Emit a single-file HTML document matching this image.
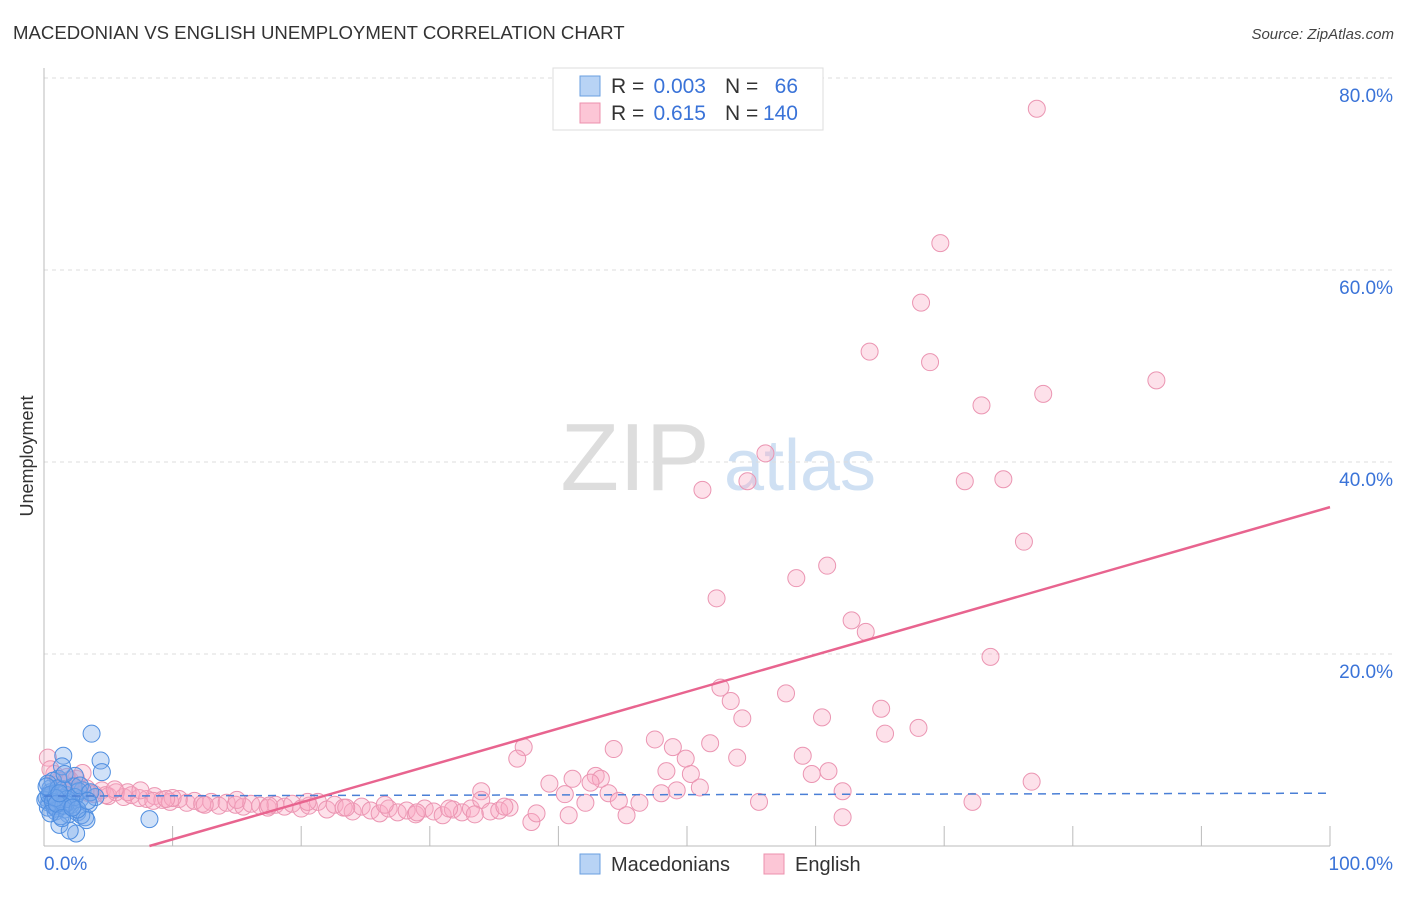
<!DOCTYPE html>
<html><head><meta charset="utf-8"><style>
body{margin:0;background:#fff;font-family:"Liberation Sans",sans-serif}
svg text{font-family:"Liberation Sans",sans-serif}
</style></head><body>
<svg id="chart" width="1406" height="892" viewBox="0 0 1406 892">
<text x="13" y="39" font-size="18.6" fill="#333">MACEDONIAN VS ENGLISH UNEMPLOYMENT CORRELATION CHART</text>
<text x="1394" y="39" font-size="15" fill="#444" text-anchor="end" font-style="italic">Source: ZipAtlas.com</text>
<text transform="translate(33,456) rotate(-90)" font-size="18" fill="#333" text-anchor="middle">Unemployment</text>
<g><text x="635" y="490" font-size="96" fill="#ddd" font-family="Liberation Serif" text-anchor="middle">ZIP</text><text x="800" y="490" font-size="72" fill="#cfe0f3" text-anchor="middle">atlas</text></g>
<g id="grid"></g><g id="axes"></g><g id="pts"></g><g id="trend"></g>
<g>
<rect x="553" y="68" width="270" height="62" fill="#fff" stroke="#ddd"/>
<rect x="580" y="76" width="20" height="20" fill="#b8d3f5" stroke="#6a9fe0"/>
<rect x="580" y="103" width="20" height="20" fill="#fcc6d6" stroke="#ec90ad"/>
<text x="611" y="93" font-size="21" fill="#333">R =</text>
<text x="706" y="93" font-size="21" fill="#3a73d8" text-anchor="end">0.003</text>
<text x="725" y="93" font-size="21" fill="#333">N =</text>
<text x="798" y="93" font-size="21" fill="#3a73d8" text-anchor="end">66</text>
<text x="611" y="120" font-size="21" fill="#333">R =</text>
<text x="706" y="120" font-size="21" fill="#3a73d8" text-anchor="end">0.615</text>
<text x="725" y="120" font-size="21" fill="#333">N =</text>
<text x="798" y="120" font-size="21" fill="#3a73d8" text-anchor="end">140</text>
</g>
<g>
<rect x="580" y="854" width="20" height="20" fill="#b8d3f5" stroke="#6a9fe0"/><text x="611" y="871" font-size="20" fill="#333">Macedonians</text>
<rect x="764" y="854" width="20" height="20" fill="#fcc6d6" stroke="#ec90ad"/><text x="795" y="871" font-size="20" fill="#333">English</text>
</g>
</svg>
<script>
const yTicks=[20,40,60,80];
const xTickLabels=["0.0%","100.0%"];
const blueX=[0.2,0.4,0.5,0.6,0.8,1.0,1.1,1.3,1.5,1.6,1.8,2.0,2.2,2.4,2.6,2.8,3.0,3.2,3.5,3.7,4.0,4.4,4.5,8.2,0.3,0.5,0.7,0.9,1.2,1.4,1.6,1.9,2.1,2.3,2.5,2.7,0.1,0.3,0.6,0.8,1.0,1.2,1.5,1.7,2.0,2.9,3.3,0.4,0.7,1.1,1.3,1.8,2.4,2.8,1.6,3.6,1.5,0.9,0.2,0.5,1.0,1.4,2.6,3.4,1.2,2.2];
const blueY=[5.0,4.5,6.0,5.2,4.2,5.5,7.0,4.8,9.4,3.8,5.3,4.6,4.0,7.3,3.5,4.9,5.8,3.0,4.4,11.7,5.1,8.9,7.7,2.8,4.0,5.6,6.8,3.6,4.7,8.3,5.0,3.3,4.3,6.2,1.3,5.7,4.8,6.5,5.4,4.1,3.9,2.2,5.9,4.4,1.6,3.2,2.7,5.3,4.6,6.0,3.1,4.9,5.1,6.3,7.5,5.6,4.2,5.0,6.2,3.4,4.4,2.9,3.8,4.7,5.5,4.0];
const pinkX=[77.2,69.7,68.2,64.2,68.9,86.5,77.7,72.9,56.1,54.7,51.2,71.6,74.6,76.2,58.5,60.9,52.3,62.8,63.9,73.6,52.6,53.4,57.7,54.3,65.1,60.5,68.0,65.4,47.5,51.8,48.9,44.3,37.3,36.8,49.9,53.9,59.0,48.4,50.3,59.7,61.0,76.8,42.9,41.1,43.3,39.3,42.5,51.0,49.2,34.0,62.1,48.0,40.5,43.9,55.6,72.2,44.7,46.3,42.1,62.1,45.3,40.8,37.9,38.3,
0.3,0.8,1.2,1.8,2.3,2.8,3.3,3.9,4.5,5.0,5.6,6.2,6.8,7.4,8.0,8.6,9.2,9.8,10.5,11.1,11.7,12.3,13.0,13.6,14.2,14.9,15.5,16.1,16.8,17.4,18.0,18.7,19.3,20.0,20.6,21.3,22.0,22.6,23.3,24.0,24.7,25.4,26.1,26.8,27.5,28.2,28.9,29.6,30.3,31.0,31.8,32.5,33.2,34.0,34.7,35.4,36.2,0.5,1.5,2.5,3.5,4.8,6.5,8.5,10.0,12.5,15.0,17.5,20.5,23.5,26.5,29.0,31.5,33.5,35.8,2.0,3.0,5.5,7.5,9.5];
const pinkY=[76.8,62.8,56.6,51.5,50.4,48.5,47.1,45.9,40.9,38.0,37.1,38.0,38.2,31.7,27.9,29.2,25.8,23.5,22.3,19.7,16.5,15.1,15.9,13.3,14.3,13.4,12.3,11.7,11.1,10.7,10.3,10.1,10.3,9.1,9.1,9.2,9.4,7.8,7.5,7.5,7.8,6.7,7.3,7.0,7.0,6.5,6.6,6.1,5.8,5.7,5.7,5.5,5.4,5.5,4.6,4.6,4.7,4.5,4.5,3.0,3.2,3.2,2.5,3.4,
9.2,7.5,6.8,7.2,6.3,5.9,6.0,5.4,5.8,5.2,5.6,5.1,5.3,5.0,4.9,5.2,4.8,4.6,4.9,4.5,4.7,4.4,4.6,4.2,4.5,4.3,4.1,4.4,4.2,4.0,4.3,4.1,4.4,3.9,4.2,4.6,3.8,4.3,4.0,3.6,4.1,3.7,3.4,3.9,3.5,3.7,3.3,3.9,3.6,3.2,3.8,3.5,3.9,4.8,3.6,3.7,4.0,8.0,6.5,7.0,5.5,5.3,5.6,4.7,5.0,4.3,4.8,4.2,4.6,4.0,4.3,3.5,3.9,3.3,4.1,6.9,7.6,5.9,5.8,4.9];
const X=v=>44+v*12.86, Y=v=>846-v*9.6;
const NS='http://www.w3.org/2000/svg';
function mk(p,t,a){const e=document.createElementNS(NS,t);for(const k in a)e.setAttribute(k,a[k]);document.getElementById(p).appendChild(e);return e;}
yTicks.forEach(t=>{const g=mk('grid','line',{x1:44,x2:1394,y1:Y(t),y2:Y(t),stroke:'#ddd','stroke-dasharray':'4,4'});


const l=mk('grid','text',{x:1393,y:Y(t)+24,'font-size':19,fill:'#3a73d8','text-anchor':'end'});l.textContent=t.toFixed(1)+'%';

});
mk('axes','line',{x1:44,x2:44,y1:68,y2:846,stroke:'#bbb'});
mk('axes','line',{x1:44,x2:1330,y1:846,y2:846,stroke:'#bbb'});
for(let i=1;i<=10;i++){const t=mk('axes','line',{x1:X(i*10),x2:X(i*10),y1:826,y2:846,stroke:'#bbb'});

}
const xl0=mk('axes','text',{x:44,y:870,'font-size':19,fill:'#3a73d8'});xl0.textContent=xTickLabels[0];


const xl1=mk('axes','text',{x:1393,y:870,'font-size':19,fill:'#3a73d8','text-anchor':'end'});xl1.textContent=xTickLabels[1];


pinkX.forEach((v,i)=>{const c=mk('pts','circle',{cx:X(v),cy:Y(pinkY[i]),r:8.5,fill:'rgba(248,170,195,0.35)',stroke:'#eb95b2','stroke-width':1});

});
blueX.forEach((v,i)=>{const c=mk('pts','circle',{cx:X(v),cy:Y(blueY[i]),r:8.5,fill:'rgba(120,170,235,0.35)',stroke:'#4f8ee0','stroke-width':1});

});
const bt=mk('trend','line',{x1:X(0),y1:Y(5.2),x2:X(100),y2:Y(5.5),stroke:'#4a7fd6','stroke-width':1.5,'stroke-dasharray':'8,6'});


const pt=mk('trend','line',{x1:X(8.2),y1:Y(0),x2:X(100),y2:Y(35.3),stroke:'#e8648f','stroke-width':2.5});


</script>
</body></html>
